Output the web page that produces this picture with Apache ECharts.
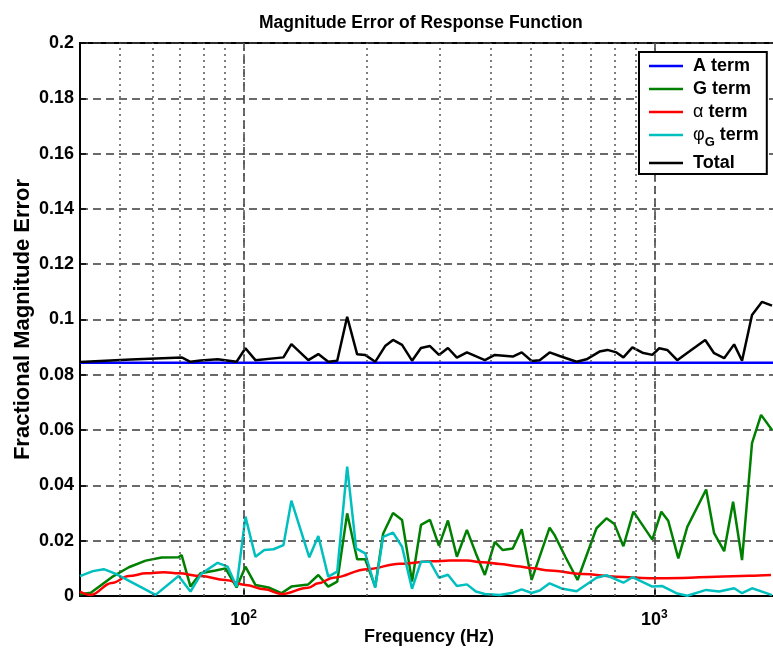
<!DOCTYPE html>
<html>
<head>
<meta charset="utf-8">
<script src="https://cdn.jsdelivr.net/npm/echarts@6/dist/echarts.min.js"></script>
<style>
  html, body { margin: 0; padding: 0; background: #fff; }
  #chart { width: 773px; height: 650px; }
</style>
</head>
<body>
<div id="chart"></div>
<script>
// Frequency axis range (Hz) and gridlines
const xMin = 40;
const xMax = 2000;
const minorGridFreq = [50, 60, 70, 80, 90, 100, 200, 300, 400, 500, 600, 700, 800, 900, 1000];

// A term: flat error level
const aFreq = [40, 2000];
const aVals = [0.0844, 0.0844];

// G term
const gFreq = [40, 42.5, 47.8, 52.6, 57.8, 63.2, 69.5, 70.7, 74.3, 78.6, 85.5, 90.4, 96.2, 101.1, 106.9,
  115.0, 123.7, 130.8, 143.8, 152.1, 160.8, 169.1, 178.8, 189.1, 197.8, 209.2, 218.7, 231.2, 243.2,
  257.2, 270.4, 284.4, 299.1, 314.5, 330.7, 349.8, 367.8, 386.8, 409.0, 427.7, 452.3, 475.6, 502.8,
  556.1, 571.9, 608.1, 650.4, 723.1, 764.7, 799.7, 840.9, 889.3, 988.8, 1040, 1081, 1144, 1203,
  1337, 1398, 1479, 1555, 1635, 1729, 1819, 1934];
const gVals = [0.0006, 0.0012, 0.0068, 0.0104, 0.0128, 0.0139, 0.0140, 0.0148, 0.0034, 0.0082, 0.0092, 0.0100, 0.0031, 0.0106, 0.0040,
  0.0031, 0.0010, 0.0034, 0.0042, 0.0076, 0.0034, 0.0052, 0.0299, 0.0133, 0.0133, 0.0034, 0.0225, 0.0300, 0.0275,
  0.0052, 0.0257, 0.0275, 0.0181, 0.0273, 0.0142, 0.0239, 0.0154, 0.0076, 0.0196, 0.0166, 0.0172, 0.0241, 0.0058,
  0.0247, 0.0220, 0.0140, 0.0058, 0.0245, 0.0281, 0.0260, 0.0180, 0.0305, 0.0204, 0.0305, 0.0272, 0.0136, 0.0250,
  0.0385, 0.0227, 0.0162, 0.0341, 0.0130, 0.0553, 0.0655, 0.0600];

// alpha term (smooth)
const alphaFreq = [40, 42.5, 47.8, 52.6, 58, 64, 69.5, 78.6, 90.4, 101.1, 112.4, 123.7, 143.8, 152.1, 165.4,
  200, 240.4, 289, 317.9, 349.8, 382.5, 420.6, 462.4, 505.8, 556, 668.6, 808.7, 972.6, 1169.6, 1414, 1701, 1923];
const alphaVals = [0.0016, 0.0004, 0.0047, 0.0072, 0.0082, 0.0086, 0.0082, 0.0072, 0.0058, 0.0040, 0.0024, 0.0007, 0.0030, 0.0046, 0.0066,
  0.0097, 0.0117, 0.0126, 0.0128, 0.0128, 0.0122, 0.0116, 0.0108, 0.0100, 0.0092, 0.0080, 0.0070, 0.0064, 0.0065, 0.0070, 0.0073, 0.0076];

// phi_G term
const phiFreq = [40, 43, 45.7, 48.9, 61.1, 69.5, 74.3, 78.9, 86.5, 91.5, 96.2, 101.1, 106.9, 112.4, 118.3,
  125.1, 130.8, 144.6, 152.1, 160.8, 169.1, 178.8, 188.0, 197.8, 209.2, 218.7, 231.2, 243.2, 257.2,
  270.4, 284.4, 299.1, 314.5, 330.7, 349.8, 367.8, 386.8, 420.6, 452.3, 475.6, 502.8, 526.0, 556.1,
  598.1, 646.8, 723.1, 764.7, 840.9, 884.3, 988.8, 1046, 1131, 1203, 1337, 1438, 1564, 1635, 1729, 1829, 1934];
const phiVals = [0.0072, 0.0090, 0.0097, 0.0080, 0.0004, 0.0072, 0.0016, 0.0080, 0.0120, 0.0106, 0.0034, 0.0287, 0.0142, 0.0166, 0.0169,
  0.0184, 0.0345, 0.0140, 0.0217, 0.0070, 0.0088, 0.0468, 0.0172, 0.0154, 0.0030, 0.0214, 0.0229, 0.0178, 0.0026,
  0.0124, 0.0124, 0.0066, 0.0077, 0.0036, 0.0042, 0.0016, 0.0007, 0.0004, 0.0012, 0.0024, 0.0011, 0.0020, 0.0046,
  0.0026, 0.0017, 0.0066, 0.0075, 0.0048, 0.0068, 0.0034, 0.0036, 0.0010, 0.0001, 0.0022, 0.0016, 0.0028, 0.0010, 0.0028, 0.0016, 0.0003];

// Total
const totalFreq = [40, 53.2, 70.7, 74.3, 78.6, 86.5, 96.2, 101.1, 106.9, 125.1, 130.8, 143.8, 152.1, 160.8, 169.1,
  178.8, 189.1, 197.8, 209.2, 221.2, 231.2, 243.2, 257.2, 270.4, 284.4, 299.1, 314.5, 330.7, 349.8,
  386.8, 409.0, 452.3, 475.6, 502.8, 526.0, 556.1, 588.1, 646.8, 683.9, 735.4, 769.0, 808.7, 840.9,
  884.3, 935.2, 988.8, 1028, 1075, 1137, 1216, 1330, 1398, 1479, 1564, 1635, 1729, 1829, 1934];
const totalVals = [0.0846, 0.0855, 0.0863, 0.0847, 0.0852, 0.0856, 0.0847, 0.0896, 0.0853, 0.0863, 0.0911, 0.0853, 0.0875, 0.0847, 0.0851,
  0.1010, 0.0874, 0.0872, 0.0847, 0.0904, 0.0926, 0.0908, 0.0851, 0.0897, 0.0904, 0.0872, 0.0897, 0.0862, 0.0881,
  0.0853, 0.0872, 0.0866, 0.0881, 0.0850, 0.0853, 0.0881, 0.0868, 0.0847, 0.0856, 0.0884, 0.0890, 0.0881, 0.0863,
  0.0899, 0.0880, 0.0872, 0.0896, 0.0890, 0.0853, 0.0884, 0.0926, 0.0878, 0.0860, 0.0910, 0.0851, 0.1016, 0.1064, 0.1050];

const FONT = '"Liberation Sans", Arial, Helvetica, sans-serif';
const pairs = (f, v) => f.map((x, i) => [x, v[i]]);

const lineSeries = (name, color, freq, vals, extra) => Object.assign({
  name: name,
  type: 'line',
  data: pairs(freq, vals),
  symbol: 'none',
  showSymbol: false,
  lineStyle: { color: color, width: 2.5 },
  itemStyle: { color: color },
  z: 3,
  animation: false
}, extra || {});

const chart = echarts.init(document.getElementById('chart'), null, { renderer: 'canvas' });

chart.setOption({
  animation: false,
  backgroundColor: '#fff',
  title: {
    text: 'Magnitude Error of Response Function',
    left: 254,
    top: 9,
    textStyle: { fontFamily: FONT, fontSize: 17.5, fontWeight: 'bold', color: '#000' }
  },
  grid: {
    left: 80, top: 43, width: 698, height: 553,
    outerBoundsMode: 'none',
    show: true, borderColor: '#000', borderWidth: 2, backgroundColor: 'transparent'
  },
  legend: {
    data: ['A term', 'G term', 'α term', 'φG term', 'Total'],
    orient: 'vertical',
    left: 639,
    top: 52,
    padding: [5, 8, 2, 10],
    icon: 'rect',
    itemGap: 5,
    itemWidth: 34,
    itemHeight: 2.5,
    backgroundColor: '#fff',
    borderColor: '#000',
    borderWidth: 2,
    borderRadius: 0,
    z: 10,
    formatter: function (name) {
      if (name === 'α term') return '{gk|α}{n| term}';
      if (name === 'φG term') return '{gk2|φ}{sub|G}{nt| term}';
      return '{n0|' + name + '}';
    },
    textStyle: {
      fontFamily: FONT, fontSize: 18, fontWeight: 'bold', color: '#000', lineHeight: 18,
      rich: {
        n0: { fontFamily: FONT, fontSize: 18, fontWeight: 'bold', lineHeight: 18, padding: [0, 0, 0, 5] },
        n: { fontFamily: FONT, fontSize: 18, fontWeight: 'bold', lineHeight: 18 },
        gk: { fontFamily: FONT, fontSize: 18, fontWeight: 'normal', lineHeight: 18, padding: [0, 0, 0, 5] },
        gk2: { fontFamily: FONT, fontSize: 18, fontWeight: 'normal', lineHeight: 18, verticalAlign: 'top', padding: [0, 0, 0, 5] },
        sub: { fontFamily: FONT, fontSize: 13, fontWeight: 'bold', lineHeight: 13, verticalAlign: 'top', padding: [10, 0, 0, 0] },
        nt: { fontFamily: FONT, fontSize: 18, fontWeight: 'bold', lineHeight: 18, verticalAlign: 'top' }
      }
    }
  },
  xAxis: {
    type: 'log',
    logBase: 10,
    min: xMin,
    max: xMax,
    name: 'Frequency (Hz)',
    nameLocation: 'middle',
    nameGap: 32,
    nameMoveOverlap: false,
    nameTextStyle: { fontFamily: FONT, fontSize: 18, fontWeight: 'bold', color: '#000' },
    axisLine: { show: true, lineStyle: { color: '#000', width: 2 } },
    axisTick: { show: true, inside: true, length: 6, lineStyle: { color: '#000', width: 1.5 } },
    axisLabel: {
      margin: 13,
      formatter: function (v) {
        const p = Math.log10(v);
        if (Math.abs(p - Math.round(p)) > 1e-6) return '';
        return '{b|10}{s|' + Math.round(p) + '}';
      },
      rich: {
        b: { fontFamily: FONT, fontSize: 18, fontWeight: 'bold', color: '#000', verticalAlign: 'bottom', lineHeight: 20 },
        s: { fontFamily: FONT, fontSize: 12, fontWeight: 'bold', color: '#000', verticalAlign: 'top', lineHeight: 12 }
      }
    },
    splitLine: { show: true, lineStyle: { color: '#3a3a3a', type: [8, 5], width: 1.5 } }
  },
  yAxis: {
    type: 'value',
    min: 0,
    max: 0.2,
    interval: 0.02,
    name: 'Fractional Magnitude Error',
    nameLocation: 'middle',
    nameRotate: 90,
    nameGap: 46,
    nameMoveOverlap: false,
    nameTextStyle: { fontFamily: FONT, fontSize: 22, fontWeight: 'bold', color: '#000' },
    axisLine: { show: true, lineStyle: { color: '#000', width: 2 } },
    axisTick: { show: true, inside: true, length: 6, lineStyle: { color: '#000', width: 1.5 } },
    axisLabel: { margin: 6, fontFamily: FONT, fontSize: 18, fontWeight: 'bold', color: '#000' },
    splitLine: { show: true, lineStyle: { color: '#3a3a3a', type: [8, 5], width: 1.5 } }
  },
  series: [
    {
      name: 'minor grid',
      type: 'line',
      data: [],
      z: 1,
      silent: true,
      markLine: {
        silent: true,
        symbol: ['none', 'none'],
        label: { show: false },
        animation: false,
        lineStyle: { color: '#555', type: [2, 4], width: 1.5 },
        emphasis: { disabled: true },
        data: minorGridFreq.map(f => ({ xAxis: f }))
      }
    },
    lineSeries('A term', '#0000ff', aFreq, aVals, { z: 2 }),
    lineSeries('G term', '#008000', gFreq, gVals),
    lineSeries('α term', '#ff0000', alphaFreq, alphaVals, { smooth: 0.4, smoothMonotone: 'x' }),
    lineSeries('φG term', '#00bfbf', phiFreq, phiVals),
    lineSeries('Total', '#000000', totalFreq, totalVals, { z: 4 })
  ]
});
</script>
</body>
</html>
